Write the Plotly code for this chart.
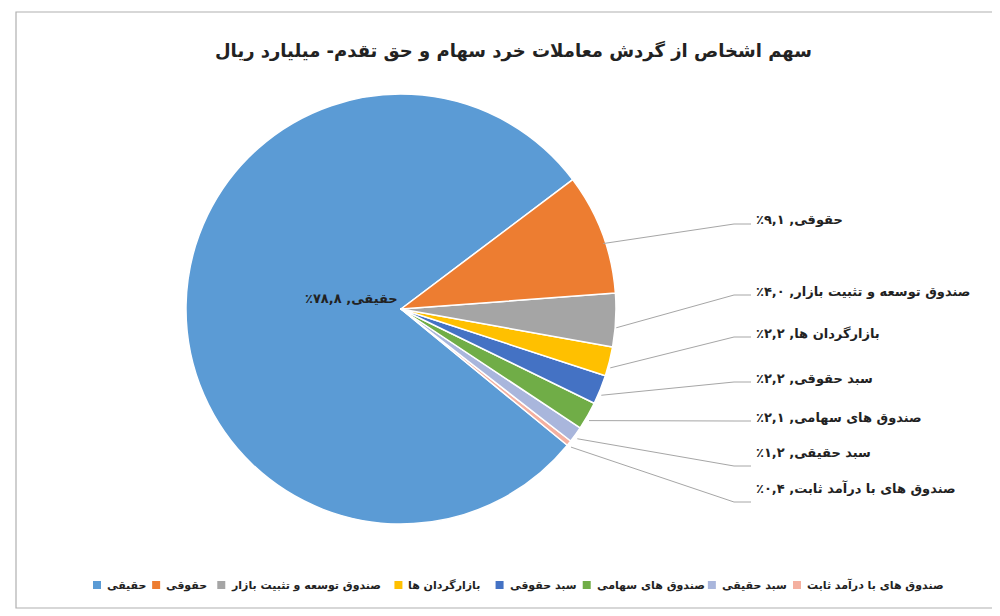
import math
import plotly.graph_objects as go

labels = ["حقیقی", "صندوق های با درآمد ثابت", "سبد حقیقی", "صندوق های سهامی",
          "سبد حقوقی", "بازارگردان ها", "صندوق توسعه و تثبیت بازار", "حقوقی"]
values = [78.8, 0.4, 1.2, 2.1, 2.2, 2.2, 4.0, 9.1]
value_text = ["۷۸,۸", "۰,۴", "۱,۲", "۲,۱", "۲,۲", "۲,۲", "۴,۰", "۹,۱"]
colors = ["#5B9BD5", "#F4B0A0", "#A9B6DC", "#70AD47", "#4472C4", "#FFC000", "#A5A5A5", "#ED7D31"]
legend_order = ["حقیقی", "حقوقی", "صندوق توسعه و تثبیت بازار", "بازارگردان ها",
                "سبد حقوقی", "صندوق های سهامی", "سبد حقیقی", "صندوق های با درآمد ثابت"]

W, H = 1000, 616
cx, cy, R = 400, 309, 215
dx_fix, dy_fix = -7, -8
boundary = 53
small_total = sum(values[1:]) / sum(values) * 360
rotation = boundary + small_total
FONT = "DejaVu Sans"
RLE, PDF = "\u202b", "\u202c"

pcx, pcy = cx + dx_fix, cy + dy_fix
fig = go.Figure(go.Pie(
    labels=labels, values=values, sort=False, direction="counterclockwise",
    rotation=rotation, marker=dict(colors=colors, line=dict(color="white", width=1.5)),
    textinfo="none", hoverinfo="label+percent", showlegend=False,
    domain=dict(x=[(pcx - R) / W, (pcx + R) / W], y=[1 - (pcy + R) / H, 1 - (pcy - R) / H]),
))

label_y = {7: 212, 6: 283, 5: 325, 4: 370, 3: 409, 2: 454, 1: 490}
label_x = 746
annotations = []
shapes = []
total = sum(values)
acc = boundary
mids = {}
for i in range(len(values) - 1, 0, -1):
    span = values[i] / total * 360
    mids[i] = acc + span / 2
    acc += span

for i, v in enumerate(values):
    txt = f"{RLE}{labels[i]}, {value_text[i]}٪{PDF}"
    if i == 0:
        annotations.append(dict(x=295 / W, y=1 - 290 / H, xref="paper", yref="paper",
                                text=f"<b>{txt}</b>", showarrow=False,
                                font=dict(family=FONT, size=13, color="#222")))
        continue
    a = math.radians(mids[i])
    ex = cx + R * 0.97 * math.sin(a)
    ey = cy - R * 0.97 * math.cos(a)
    ly = label_y[i] + 4
    shapes.append(dict(type="path", xref="paper", yref="paper",
                       path=f"M {ex/W},{1-ey/H} L {(label_x-20)/W},{1-ly/H} L {(label_x-3)/W},{1-ly/H}",
                       line=dict(color="#a6a6a6", width=1)))
    annotations.append(dict(x=label_x / W, y=1 - label_y[i] / H, xref="paper", yref="paper",
                            xanchor="left", text=f"<b>{txt}</b>", showarrow=False,
                            font=dict(family=FONT, size=13, color="#222")))

# manual legend (rendered text widths in px at 11px bold)
lg_x0, lg_x1, lg_y = 85, 935, 577
text_w = [33, 39, 151, 75, 61, 99, 59, 138]
msz = 8
gap = (lg_x1 - lg_x0 - sum(text_w) - len(text_w) * (msz + 4)) / (len(text_w) - 1)
x = lg_x0
for t, tw in zip(legend_order, text_w):
    c = colors[labels.index(t)]
    shapes.append(dict(type="rect", xref="paper", yref="paper",
                       x0=x / W, x1=(x + msz) / W, y0=1 - (lg_y + msz / 2) / H, y1=1 - (lg_y - msz / 2) / H,
                       fillcolor=c, line=dict(width=0)))
    annotations.append(dict(x=(x + msz + 4) / W, y=1 - lg_y / H, xref="paper", yref="paper",
                            xanchor="left", yanchor="middle", text=f"<b>{t}</b>", showarrow=False,
                            font=dict(family=FONT, size=11, color="#222")))
    x += msz + 4 + tw + gap

annotations.append(dict(x=505 / W, y=1 - 30 / H, xref="paper", yref="paper",
                        text="<b>سهم اشخاص از گردش معاملات خرد سهام و حق تقدم- میلیارد ریال</b>",
                        showarrow=False, font=dict(family=FONT, size=18, color="#222")))

shapes.append(dict(type="rect", xref="paper", yref="paper", x0=8 / W, x1=992 / W,
                   y0=1 - 600 / H, y1=1 - 4 / H, line=dict(color="#b0b0b0", width=1.2)))

fig.update_layout(
    width=W, height=H, margin=dict(l=0, r=0, t=0, b=0),
    paper_bgcolor="white", plot_bgcolor="white",
    annotations=annotations, shapes=shapes, showlegend=False,
)
fig.write_html("out.html")
